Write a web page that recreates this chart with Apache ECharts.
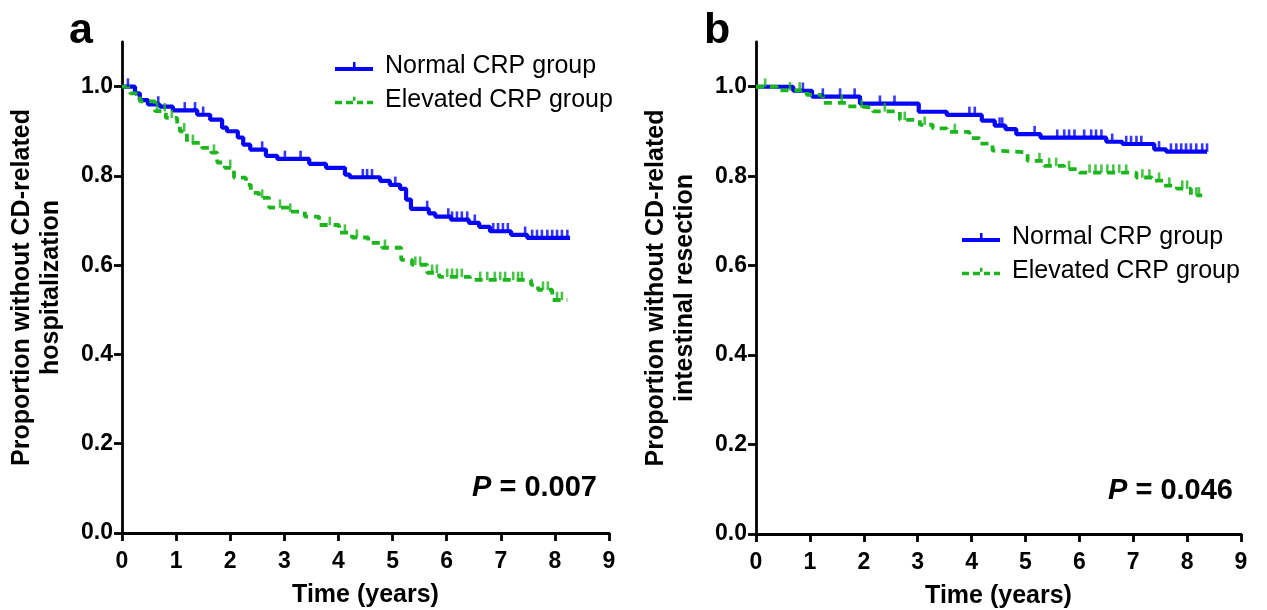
<!DOCTYPE html>
<html>
<head>
<meta charset="utf-8">
<script src="https://cdn.jsdelivr.net/npm/echarts@6/dist/echarts.min.js"></script>
<style>
html,body{margin:0;padding:0;background:#fff;}
#chart{width:1267px;height:610px;}
</style>
</head>
<body>
<div id="chart"></div>
<script>
// ---------- DATA ----------
const xTicks = [0,1,2,3,4,5,6,7,8,9];
const yTicks = [0,0.2,0.4,0.6,0.8,1.0];
const legendNames = ['Normal CRP group','Elevated CRP group'];

// Panel a: CD-related hospitalization (time in years, survival proportion after step)
const aNormalT = [0,0.24,0.33,0.48,0.70,0.94,1.39,1.63,1.85,1.94,2.14,2.24,2.37,2.66,2.87,3.46,3.77,4.12,4.21,4.77,4.95,5.14,5.25,5.34,5.67,5.79,6.08,6.41,6.60,6.80,7.19,7.49,8.28];
const aNormalS = [1.0,0.985,0.97,0.96,0.955,0.947,0.937,0.926,0.908,0.90,0.886,0.87,0.859,0.845,0.838,0.827,0.818,0.803,0.797,0.789,0.78,0.771,0.747,0.726,0.716,0.709,0.702,0.695,0.686,0.676,0.668,0.661,0.661];
const aNormalCens = [0.11,0.67,1.16,1.35,1.50,2.59,3.01,3.30,4.45,4.53,4.62,5.05,5.64,6.03,6.10,6.19,6.28,6.38,6.52,6.86,6.95,7.04,7.13,7.45,7.58,7.67,7.76,7.86,7.95,8.04,8.13,8.23];

const aElevT = [0,0.15,0.33,0.61,0.81,1.02,1.07,1.20,1.48,1.65,1.76,1.90,2.07,2.29,2.38,2.53,2.72,3.09,3.38,3.64,4.01,4.25,4.55,4.81,5.16,5.36,5.64,5.86,6.43,7.56,7.69,7.95,8.23];
const aElevS = [1.0,0.985,0.967,0.945,0.93,0.915,0.90,0.874,0.863,0.852,0.83,0.818,0.796,0.78,0.762,0.751,0.729,0.72,0.709,0.69,0.673,0.662,0.65,0.639,0.612,0.601,0.583,0.574,0.567,0.556,0.545,0.522,0.522];
const aElevCens = [0.65,0.79,0.92,1.15,1.31,1.70,2.00,2.59,2.92,3.11,3.84,4.12,4.34,4.86,5.42,5.51,5.73,5.82,6.01,6.10,6.19,6.28,6.62,6.75,6.89,6.99,7.08,7.23,7.32,7.39,7.78,7.87,8.04,8.13];

// Panel b: CD-related intestinal resection
const bNormalT = [0,0.69,1.04,1.93,3.02,3.54,4.19,4.43,4.63,4.83,5.28,6.50,6.80,7.39,7.61,8.37];
const bNormalS = [1.0,0.991,0.978,0.962,0.944,0.937,0.924,0.913,0.905,0.894,0.886,0.877,0.872,0.86,0.855,0.855];
const bNormalCens = [0.87,1.24,1.56,1.83,2.30,2.57,3.96,4.06,4.52,4.57,5.17,5.59,5.72,5.81,5.91,6.09,6.22,6.31,6.41,6.61,6.87,6.96,7.06,7.15,7.48,7.70,7.80,7.89,7.98,8.07,8.17,8.28,8.37];

const bElevT = [0,0.39,0.94,1.24,1.69,1.93,2.17,2.67,3.04,3.28,3.54,3.96,4.15,4.39,4.52,5.04,5.35,5.72,6.00,7.06,7.35,7.57,7.81,8.07,8.28];
const bElevS = [1.0,0.992,0.982,0.964,0.956,0.953,0.945,0.926,0.915,0.907,0.899,0.885,0.873,0.857,0.853,0.834,0.823,0.816,0.808,0.797,0.79,0.779,0.772,0.757,0.757];
const bElevCens = [0.17,0.63,0.81,1.59,1.96,2.39,2.76,3.13,3.69,5.26,5.44,5.57,5.81,6.19,6.30,6.41,6.52,6.63,6.74,6.87,7.17,7.30,7.48,7.67,7.91,8.00,8.17,8.22];

// ---------- BUILD ----------
const BLUE = '#0505f8';
const GREEN = '#1db51d';
const FONT = '"Liberation Sans", Arial, Helvetica, sans-serif';

function pairs(t, s){ return t.map((v,i)=>[v, s[i]]); }
function stepAt(t, s, x){ let v = s[0]; for (let i=0;i<t.length;i++){ if (t[i] <= x) v = s[i]; } return v; }
function cens(t, s, c){ return c.map(x=>[x, stepAt(t, s, x)]); }

const tickPath = 'path://M0,0L2,0L2,10L0,10Z';
const blueIcon = 'path://M0,5h38v4h-38z M18,0h2.5v5h-2.5z';
const greenIcon = 'path://M0,5h7v3.5h-7z M11,5h7v3.5h-7z M18,1h2.5v4h-2.5z M22,5h6v3.5h-6z M32,5h6v3.5h-6z';

function xAxis(gi){
  return {
    gridIndex: gi, type:'value', min:0, max:9, interval:1,
    name:'Time (years)', nameLocation:'middle', nameGap:50,
    nameTextStyle:{fontFamily:FONT, fontWeight:'bold', fontSize:25, color:'#000'},
    axisLine:{show:true, lineStyle:{color:'#000', width:2.8}},
    axisTick:{show:true, inside:false, length:8, lineStyle:{color:'#000', width:2.8}},
    axisLabel:{fontFamily:FONT, fontWeight:'bold', fontSize:23, color:'#000', margin:17},
    splitLine:{show:false}
  };
}
function yAxis(gi, name){
  return {
    gridIndex: gi, type:'value', min:0, max:1.1, interval:0.2,
    name: name, nameLocation:'middle', nameGap:56,
    nameTextStyle:{fontFamily:FONT, fontWeight:'bold', fontSize:25, color:'#000', lineHeight:29},
    axisLine:{show:true, lineStyle:{color:'#000', width:2.8}},
    axisTick:{show:true, inside:false, length:8, lineStyle:{color:'#000', width:2.8}, customValues: yTicks},
    axisLabel:{fontFamily:FONT, fontWeight:'bold', fontSize:23, color:'#000', margin:9,
      customValues: yTicks,
      formatter: v => v > 1.0001 ? '' : v.toFixed(1)},
    splitLine:{show:false}
  };
}
function lineSeries(name, gi, t, s, color, dashed){
  return {
    name: name, type:'line', xAxisIndex:gi, yAxisIndex:gi, step:'end',
    data: pairs(t, s), showSymbol:false, symbol:'none', silent:true, animation:false,
    lineStyle:{color:color, width: dashed ? 3.8 : 4.2, type: dashed ? [8,6] : 'solid'},
    itemStyle:{color:color}, z:2
  };
}
function censSeries(name, gi, t, s, c, color){
  return {
    name: name, type:'scatter', xAxisIndex:gi, yAxisIndex:gi,
    data: cens(t, s, c), symbol: tickPath, symbolSize:[2.6,8.5], symbolOffset:[0,-4],
    itemStyle:{color:color}, silent:true, animation:false, z:3
  };
}
function legend(left, top){
  return {
    orient:'vertical', left:left, top:top, padding:0, itemGap:9,
    itemWidth:38, itemHeight:10, selectedMode:false,
    textStyle:{fontFamily:FONT, fontSize:25, color:'#000', lineHeight:25, padding:[0,0,0,7]},
    data:[{name:legendNames[0], icon:blueIcon, itemStyle:{color:BLUE}},
          {name:legendNames[1], icon:greenIcon, itemStyle:{color:GREEN}}]
  };
}
function pText(x, y, val){
  return {
    type:'text', x:x, y:y,
    style:{
      text:'{i|P} = ' + val, align:'right', verticalAlign:'middle',
      font:'bold 29px ' + FONT, fill:'#000',
      rich:{i:{fontStyle:'italic', fontWeight:'bold', fontSize:29, fontFamily:FONT, fill:'#000'}}
    }
  };
}

const chart = echarts.init(document.getElementById('chart'), null, {renderer:'canvas'});
chart.setOption({
  backgroundColor:'#fff',
  animation:false,
  grid:[
    {left:122, top:42, width:487, bottom:77, containLabel:false, outerBoundsMode:'none'},
    {left:756, top:42, width:485, bottom:76, containLabel:false, outerBoundsMode:'none'}
  ],
  xAxis:[xAxis(0), xAxis(1)],
  yAxis:[yAxis(0,'Proportion without CD-related\nhospitalization'),
         yAxis(1,'Proportion without CD-related\nintestinal resection')],
  legend:[legend(335,54), legend(962,225)],
  series:[
    lineSeries(legendNames[0],0,aNormalT,aNormalS,BLUE,false),
    lineSeries(legendNames[1],0,aElevT,aElevS,GREEN,true),
    censSeries('a-normal-censored',0,aNormalT,aNormalS,aNormalCens,BLUE),
    censSeries('a-elev-censored',0,aElevT,aElevS,aElevCens,GREEN),
    lineSeries(legendNames[0],1,bNormalT,bNormalS,BLUE,false),
    lineSeries(legendNames[1],1,bElevT,bElevS,GREEN,true),
    censSeries('b-normal-censored',1,bNormalT,bNormalS,bNormalCens,BLUE),
    censSeries('b-elev-censored',1,bElevT,bElevS,bElevCens,GREEN)
  ],
  graphic:[
    {type:'text', x:69, y:31, style:{text:'a', font:'bold 43px '+FONT, fill:'#000', verticalAlign:'middle'}},
    {type:'text', x:704, y:31, style:{text:'b', font:'bold 43px '+FONT, fill:'#000', verticalAlign:'middle'}},
    pText(597, 488, '0.007'),
    pText(1233, 491, '0.046')
  ]
});
</script>
</body>
</html>
